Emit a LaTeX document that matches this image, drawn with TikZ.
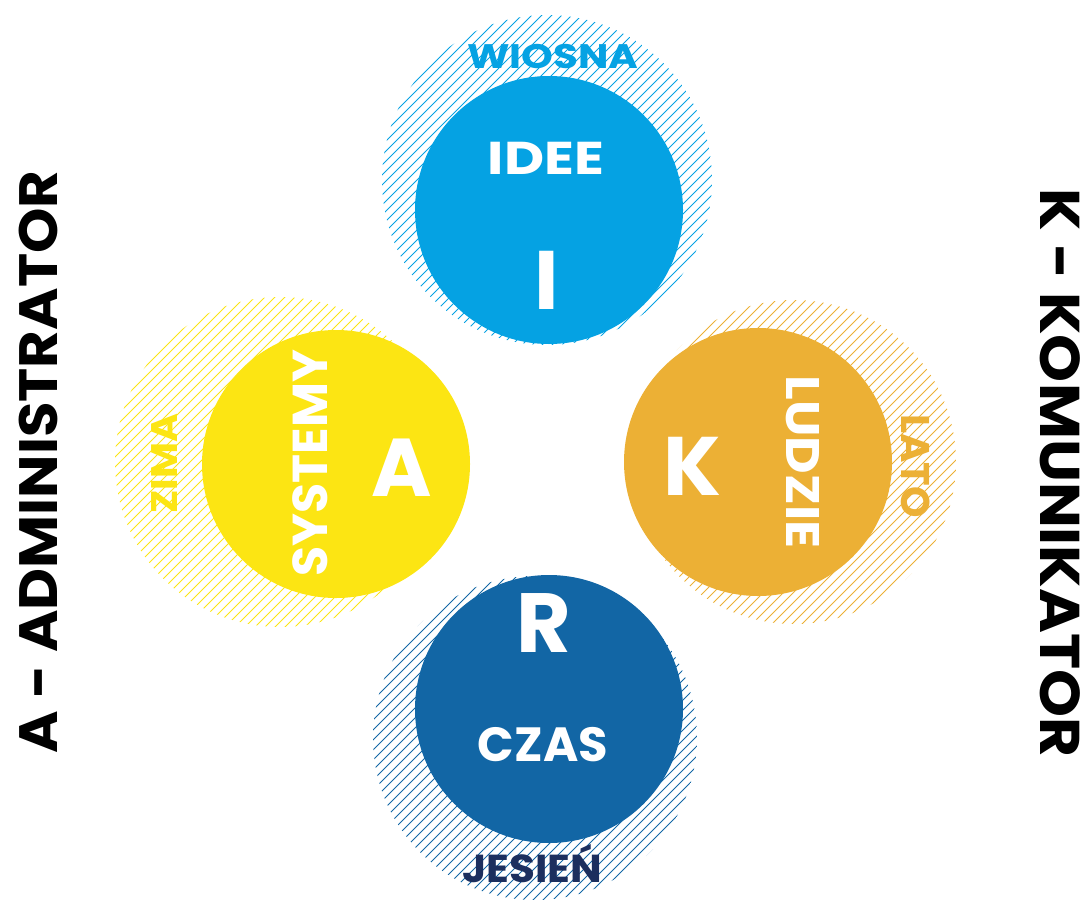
\documentclass[tikz,border=0pt]{standalone}
\usepackage{fontspec}
\setmainfont{Poppins}
\usepackage{tikz}
\usepackage{xcolor}
\usetikzlibrary{
    calc,
    positioning
}

\definecolor{wiosna}{HTML}{05A2E3}
\definecolor{zima}{HTML}{FCE513}
\definecolor{lato}{HTML}{ECB035}
\definecolor{jesien}{HTML}{1266A5}
\definecolor{granat}{HTML}{1C2F5E}

\newcommand{\hatchdisc}[4]{
    \begin{scope}
        \clip (#1, #2) circle (#3);
        \foreach \k in {-360, -350, ..., 360}
            \draw[#4, line width=0.9] (#1 + \k - 200, #2 + 200) -- (#1 + \k + 200, #2 - 200);
    \end{scope}
}
\newcommand{\sx}[2]{\scalebox{#1}[1]{#2}}

\tikzset{
    disc/.style={circle, inner sep=0pt, minimum size=268},
    word/.style={inner sep=0pt, font=\bfseries\fontsize{#1}{#1}\selectfont},
    word/.default=46
}

\begin{document}
\begin{tikzpicture}[x=1pt, y=-1pt]
                                        \useasboundingbox (0, 0) rectangle (1083, 902);

                                        \hatchdisc{547}{180}{165}{wiosna}
                                        \hatchdisc{280}{462}{165}{zima}
                                        \hatchdisc{794}{462}{162}{lato}
                                        \hatchdisc{535}{738}{162}{jesien}

                                        \node[disc, fill=wiosna] (i) at (549, 210) {};
                                        \node[disc, fill=zima] (a) at (336, 464) {};
                                        \node[disc, fill=lato] (k) at (758, 462) {};
                                        \node[disc, fill=jesien] (r) at (549, 709) {};

                                        \node[word=34, text=wiosna] (wiosna) at (553, 57) {\sx{1.19}{WIOSNA}};
                                        \node[word=46, text=white] (idee) at (546, 158) {\sx{1.2}{IDEE}};
                                        \node[word=83, text=white] (li) at (547, 280) {I};

                                        \node[word=37, text=zima, rotate=90] (zimat) at (165, 464) {\sx{1.06}{ZIMA}};
                                        \node[word=49, text=white, rotate=90] (systemy) at (310, 463) {SYSTEMY};
                                        \node[word=82, text=white] (la) at (402, 468) {A};

                                        \node[word=83, text=white] (lk) at (692, 466) {K};
                                        \node[word=47, text=white, rotate=-90] (ludzie) at (803, 462) {\sx{1.1}{LUDZIE}};
                                        \node[word=40, text=lato, rotate=-90] (latot) at (916, 466) {LATO};

                                        \node[word=84, text=white] (lr) at (544, 623) {R};
                                        \node[word=48, text=white] (czas) at (543, 745) {CZAS};
                                        \node[word=39, text=granat, anchor=base] (jesient) at (532, 882) {\sx{1.08}{JESIEŃ}};

                                        \node[word=54, text=black, rotate=90] (admin) at (38, 462) {\sx{1.07}{A - ADMINISTRATOR}};
                                        \node[word=56, text=black, rotate=-90] (komun) at (1060, 473) {\sx{1.09}{K - KOMUNIKATOR}};
                                    \end{tikzpicture}
\end{document}
